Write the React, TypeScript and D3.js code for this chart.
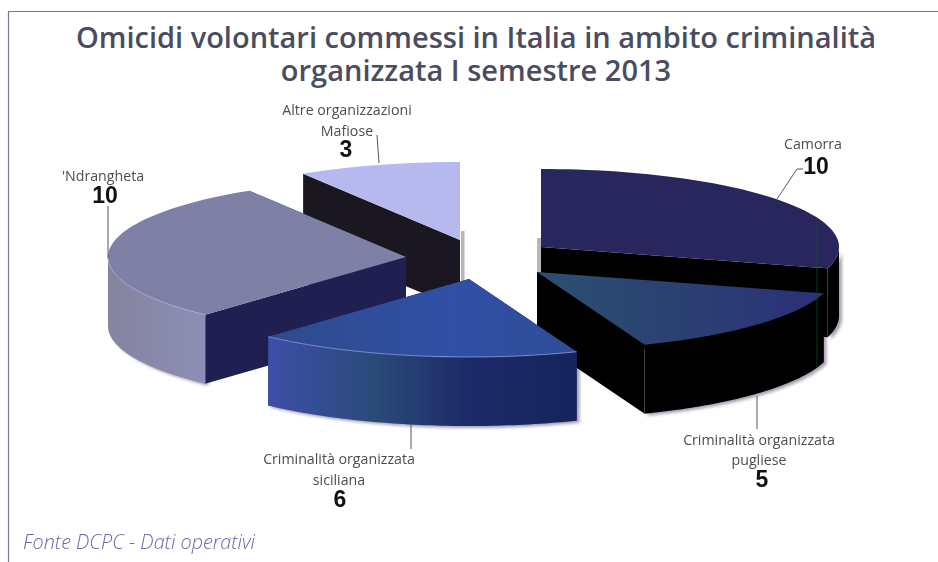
import React from 'react';
import * as d3 from 'd3';

const categories = ['Camorra', 'Criminalità organizzata pugliese', 'Criminalità organizzata siciliana', "'Ndrangheta", 'Altre organizzazioni Mafiose'];
const values = [10, 5, 6, 10, 3];
const titleLines = ['Omicidi volontari commessi in Italia in ambito criminalità', 'organizzata I semestre 2013'];
const labelLines = [['Camorra'], ['Criminalità organizzata', 'pugliese'], ['Criminalità organizzata', 'siciliana'], ["'Ndrangheta"], ['Altre organizzazioni', 'Mafiose']];
const source = 'Fonte DCPC - Dati operativi';

const WIDTH = 938;
const HEIGHT = 562;
const RX = 298;
const RY = 78;
const DEPTH = 69;

// where each exploded slice sits on the page
const centres: [number, number][] = [[541, 247], [537, 272], [469, 279], [406, 257], [460, 240]];
const topFills = ['#29265e', 'url(#topPuglia)', 'url(#topSicilia)', '#7f80a6', '#b5b9ee'];
const wallFills = ['#000000', '#000000', 'url(#wallSicilia)', 'url(#wallNdrangheta)', '#1b1720'];
const cutFills = ['#000000', '#000000', '#1a2a6a', '#1f1f52', '#1b1720'];
const rimColors = [null, null, '#8f9ae0', '#a4a8ec', null];
const drawOrder = [4, 0, 3, 1, 2];

// label anchors [x, first baseline, line step, value x, value baseline]
const labelPos = [
  [813, 149, 20, 816, 174],
  [759, 445, 20, 762, 487],
  [339, 464, 21, 340, 507],
  [103, 181, 20, 105, 203],
  [347, 115, 21, 346, 157],
];
const leaders: [number, number][][] = [
  [[777, 199], [797, 169], [803, 169]],
  [[757, 396], [757, 429]],
  [[411, 424], [411, 449]],
  [[108, 206], [108, 258]],
  [[377, 135], [379, 163]],
];

const pie = d3.pie<number>().sort(null).startAngle(0).endAngle(2 * Math.PI);
const arcs = pie(values);
const xProj = d3.scaleLinear().domain([-1, 1]).range([-RX, RX]);
const yProj = d3.scaleLinear().domain([-1, 1]).range([-RY, RY]);
const px = (a: number) => xProj(Math.sin(a));
const py = (a: number) => yProj(-Math.cos(a));

const line = d3.line<[number, number]>();

const sweep = (from: number, to: number) =>
  d3.range(0, 61).map(i => from + ((to - from) * i) / 60);

// top face: ellipse sector
function topPath(start: number, end: number) {
  return line([[0, 0], ...sweep(start, end).map(a => [px(a), py(a)] as [number, number])]) + 'Z';
}

// the part of the rim that faces the viewer
function frontSweep(start: number, end: number) {
  const from = Math.max(start, Math.PI / 2);
  const to = Math.min(end, (3 * Math.PI) / 2);
  return to > from ? sweep(from, to) : null;
}

function wallPath(start: number, end: number) {
  const steps = frontSweep(start, end);
  if (!steps) return null;
  const upper = steps.map(a => [px(a), py(a)] as [number, number]);
  const lower = steps.slice().reverse().map(a => [px(a), py(a) + DEPTH] as [number, number]);
  return line([...upper, ...lower]) + 'Z';
}

function rimPath(start: number, end: number) {
  const steps = frontSweep(start, end);
  return steps ? line(steps.map(a => [px(a), py(a)] as [number, number])) : null;
}

// flat cut from the centre out to the rim
function cutPath(a: number) {
  return line([[0, 0], [px(a), py(a)], [px(a), py(a) + DEPTH], [0, DEPTH]]) + 'Z';
}

const font = '"Open Sans", sans-serif';

const App: React.FC = () => (
  <svg width={WIDTH} height={HEIGHT} style={{ position: 'absolute', left: 0, top: 0, background: '#fff' }}>
    <defs>
      <linearGradient id="topPuglia" x1="0" x2="1" y1="0" y2="0">
        <stop offset="0" stopColor="#2c5070" />
        <stop offset="0.55" stopColor="#2a3f72" />
        <stop offset="1" stopColor="#2b3078" />
      </linearGradient>
      <linearGradient id="topSicilia" x1="0" x2="1" y1="0" y2="0">
        <stop offset="0" stopColor="#2f4a8c" />
        <stop offset="0.6" stopColor="#3150a6" />
        <stop offset="1" stopColor="#2f4c94" />
      </linearGradient>
      <linearGradient id="wallSicilia" x1="0" x2="1" y1="0" y2="0">
        <stop offset="0" stopColor="#3d4fa8" />
        <stop offset="0.35" stopColor="#2a4a78" />
        <stop offset="0.65" stopColor="#1c2a68" />
        <stop offset="1" stopColor="#15245c" />
      </linearGradient>
      <linearGradient id="wallNdrangheta" x1="0" x2="1" y1="0" y2="0">
        <stop offset="0" stopColor="#84849f" />
        <stop offset="1" stopColor="#8d8eb6" />
      </linearGradient>
      <filter id="blur2" x="-5%" y="-10%" width="110%" height="120%">
        <feGaussianBlur stdDeviation="1.4" />
      </filter>
    </defs>

    {/* scan frame */}
    <path d={`M8.5,${HEIGHT}V11.5H${WIDTH}`} fill="none" stroke="#7d7890" strokeWidth={1.2} />

    <g textAnchor="middle" fontFamily={font} fontWeight={600} fontSize={29} fill="#4a4d5e">
      {titleLines.map((t, i) => (
        <text key={t} x={476} y={48 + i * 33}>{t}</text>
      ))}
    </g>

    {/* soft print shadow under every rim, kept behind all slices */}
    <g fill="#a8a2b2" filter="url(#blur2)">
      {drawOrder.map(i => {
        const d = arcs[i];
        const [cx, cy] = centres[i];
        const wall = wallPath(d.startAngle, d.endAngle);
        return wall ? <path key={i} d={wall} transform={`translate(${cx + 3},${cy + 2})`} /> : null;
      })}
    </g>

    {/* pale ghost edges next to the 12 o'clock cuts */}
    <g fill="#b9b6ba">
      <rect x={centres[4][0] + 1} y={centres[4][1] - 9} width={3.5} height={50} />
      <rect x={centres[0][0] - 4} y={centres[0][1] - 9} width={4} height={34} />
    </g>

    {drawOrder.map(i => {
      const d = arcs[i];
      const [cx, cy] = centres[i];
      const wall = wallPath(d.startAngle, d.endAngle);
      const rim = rimPath(d.startAngle, d.endAngle);
      return (
        <g key={categories[i]} transform={`translate(${cx},${cy})`}>
          <path d={cutPath(d.startAngle)} fill={cutFills[i]} />
          <path d={cutPath(d.endAngle)} fill={cutFills[i]} />
          {wall && <path d={wall} fill={wallFills[i]} />}
          <path d={topPath(d.startAngle, d.endAngle)} fill={topFills[i]} />
          {rim && rimColors[i] && <path d={rim} fill="none" stroke={rimColors[i] as string} strokeWidth={0.8} />}
        </g>
      );
    })}

    {/* scanner streak */}
    <line x1={817} x2={817} y1={218} y2={368} stroke="#14502a" strokeWidth={0.7} />

    <g fill="none" stroke="#55555f" strokeWidth={1}>
      {leaders.map((l, i) => (
        <path key={i} d={d3.line()(l) as string} />
      ))}
    </g>

    {labelPos.map(([x, y, step, vx, vy], i) => (
      <g key={categories[i]} textAnchor="middle">
        {labelLines[i].map((t, j) => (
          <text key={t} x={x} y={y + j * step} fontFamily={font} fontSize={14.2} fill="#4c4c52">{t}</text>
        ))}
        <text x={vx} y={vy} fontFamily='"Liberation Sans", sans-serif' fontWeight={700} fontSize={23} fill="#111">{values[i]}</text>
      </g>
    ))}

    <text x={23} y={549} fontFamily={font} fontStyle="italic" fontWeight={300} fontSize={19.8} fill="#6a6aa6">{source}</text>
  </svg>
);

export default App;
